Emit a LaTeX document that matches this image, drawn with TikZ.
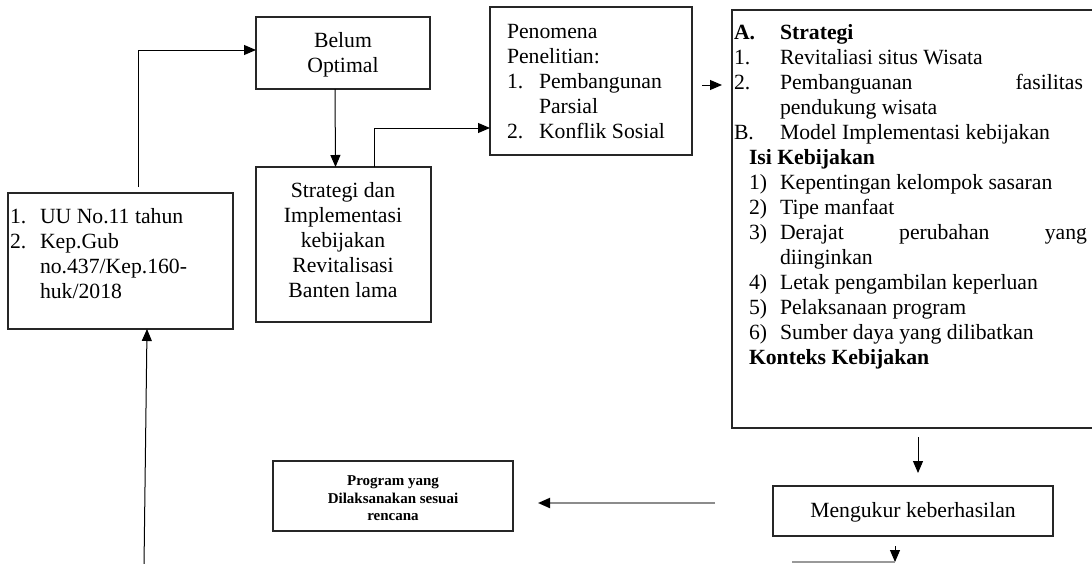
\documentclass[tikz,border=0pt]{standalone}
\usepackage{fontspec}
\setmainfont{Liberation Serif}
\usetikzlibrary{arrows.meta,calc}
\newcommand{\fsz}{\fontsize{21.7}{25}\selectfont}
\newcommand{\fsm}{\fontsize{15}{18}\selectfont\bfseries}
\begin{document}
\begin{tikzpicture}[x=1pt,y=-1pt,
  boxnode/.style={draw=black!85,line width=1.5pt,rectangle,inner sep=0pt,outer sep=0pt},
  txt/.style={anchor=base west,inner sep=0pt,outer sep=0pt,font=\fsz},
  ctxt/.style={anchor=base,inner sep=0pt,outer sep=0pt,font=\fsz},
  stxt/.style={anchor=base,inner sep=0pt,outer sep=0pt,font=\fsm},
  arr/.style={draw=black,line width=1pt,-{Triangle[length=12pt,width=10pt]}},
  grayarr/.style={draw=black!45,line width=2pt,-{Triangle[length=12pt,width=10pt,color=black]}}
]
\useasboundingbox (0,0) rectangle (1092,563);
\clip (0,0) rectangle (1092,563);
\fill[white] (0,0) rectangle (1092,563);

% boxes
\node[boxnode,minimum width=225pt,minimum height=136pt] (uu) at (120.5,261) {};
\node[boxnode,minimum width=174pt,minimum height=72pt] (belum) at (343,53) {};
\node[boxnode,minimum width=175pt,minimum height=155pt] (strat) at (343.5,244.5) {};
\node[boxnode,minimum width=202pt,minimum height=148pt] (pen) at (591,81) {};
\node[boxnode,minimum width=368pt,minimum height=418pt] (big) at (916,219) {};
\node[boxnode,minimum width=280pt,minimum height=50pt] (meng) at (913,511) {};
\node[boxnode,line width=1.8pt,minimum width=240pt,minimum height=70pt] (prog) at (393,496) {};

% left box text
\node[txt] (uu1n) at (10,223) {1.};
\node[txt] (uu1) at (40,223) {UU No.11 tahun};
\node[txt] (uu2n) at (10,248) {2.};
\node[txt] (uu2) at (40,248) {Kep.Gub};
\node[txt] (uu3) at (40,273) {no.437/Kep.160-};
\node[txt] (uu4) at (40,298) {huk/2018};

% belum optimal
\node[ctxt] (be1) at (343,47) {Belum};
\node[ctxt] (be2) at (343,72) {Optimal};

% strategi
\node[ctxt] (st1) at (343,197) {Strategi dan};
\node[ctxt] (st2) at (343,222) {Implementasi};
\node[ctxt] (st3) at (343,247) {kebijakan};
\node[ctxt] (st4) at (343,272) {Revitalisasi};
\node[ctxt] (st5) at (343,297) {Banten lama};

% penomena
\node[txt] (pe1) at (507,38) {Penomena};
\node[txt] (pe2) at (507,63) {Penelitian:};
\node[txt] (pe3n) at (507,88) {1.};
\node[txt] (pe3) at (539,88) {Pembangunan};
\node[txt] (pe4) at (539,113) {Parsial};
\node[txt] (pe5n) at (507,138) {2.};
\node[txt] (pe5) at (539,138) {Konflik Sosial};

% big box text
\node[txt,font=\fsz\bfseries] (bA) at (734,39) {A.};
\node[txt,font=\fsz\bfseries] (bAt) at (780,39) {Strategi};
\node[txt] (b1n) at (734,64) {1.};
\node[txt] (b1) at (780,64) {Revitaliasi situs Wisata};
\node[txt] (b2n) at (734,89) {2.};
\node[txt] (b2) at (780,89) {\makebox[303pt][s]{Pembanguanan fasilitas}};
\node[txt] (b2b) at (780,114) {pendukung wisata};
\node[txt] (bB) at (734,139) {B.};
\node[txt] (bBt) at (780,139) {Model Implementasi kebijakan};
\node[txt,font=\fsz\bfseries] (isi) at (749,164) {Isi Kebijakan};
\node[txt] (i1n) at (749,189) {1)};
\node[txt] (i1) at (780,189) {Kepentingan kelompok sasaran};
\node[txt] (i2n) at (749,214) {2)};
\node[txt] (i2) at (780,214) {Tipe manfaat};
\node[txt] (i3n) at (749,239) {3)};
\node[txt] (i3) at (780,239) {\makebox[307pt][s]{Derajat perubahan yang}};
\node[txt] (i3b) at (780,264) {diinginkan};
\node[txt] (i4n) at (749,289) {4)};
\node[txt] (i4) at (780,289) {Letak pengambilan keperluan};
\node[txt] (i5n) at (749,314) {5)};
\node[txt] (i5) at (780,314) {Pelaksanaan program};
\node[txt] (i6n) at (749,339) {6)};
\node[txt] (i6) at (780,339) {Sumber daya yang dilibatkan};
\node[txt,font=\fsz\bfseries] (kon) at (749,364) {Konteks Kebijakan};

% mengukur
\node[ctxt] (mt) at (913,517) {Mengukur keberhasilan};

% program
\node[stxt] (pr1) at (393,485) {Program yang};
\node[stxt] (pr2) at (393,503) {Dilaksanakan sesuai};
\node[stxt] (pr3) at (393,520) {rencana};

% coordinates for free ends
\coordinate (b0) at (144,566);
\coordinate (bl) at (792,562);
\coordinate (br) at (895,562);

% connectors
\draw[arr,shorten <=6pt] ([xshift=17.5pt]uu.north) |- ([yshift=3pt]belum.west);
\draw[arr] ([xshift=-8pt]belum.south) -- ([xshift=-8pt]strat.north);
\draw[arr] ([xshift=30.5pt]strat.north) |- ([yshift=-47pt]pen.west);
\draw[arr,shorten <=10pt,shorten >=10pt] ([yshift=-4pt]pen.east) -- ([yshift=-4pt]pen.east -| big.west);
\draw[arr,shorten <=9pt,shorten >=13pt] ([xshift=2pt]big.south) -- ([xshift=2pt]big.south |- meng.north);
\draw[grayarr,shorten <=58pt,shorten >=25pt] ([yshift=8pt]meng.west) -- ([yshift=8pt]meng.west -| prog.east);
\draw[arr,shorten <=10pt] ([xshift=-18pt]meng.south) -- (br);
\draw[draw=black!40,line width=1.2pt] (bl) -- (br);
\draw[arr] (b0) -- ([xshift=26.5pt]uu.south);
\end{tikzpicture}
\end{document}
